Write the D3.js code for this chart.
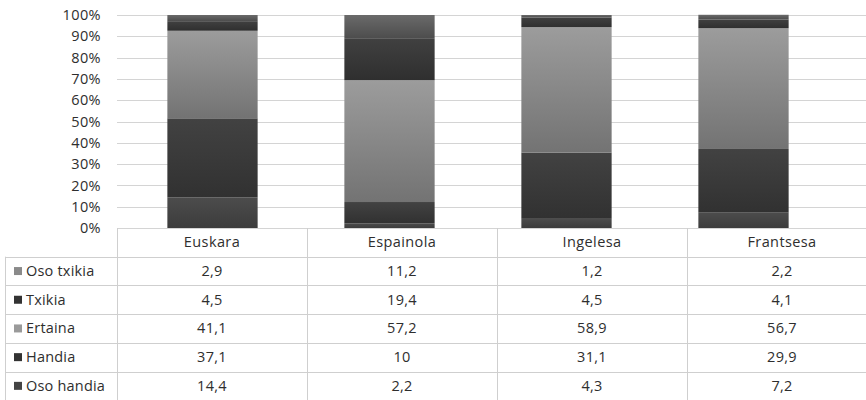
<!DOCTYPE html>
<html>
<head>
<meta charset="utf-8">
<script src="https://cdn.jsdelivr.net/npm/d3@7"></script>
<style>
  html, body { margin: 0; padding: 0; background: #fff; }
  svg { display: block; }
  text { font-family: "Open Sans", "Noto Sans", sans-serif; fill: #2e2e2e; }
</style>
</head>
<body>
<svg id="chart" width="866" height="400"></svg>
<script>
// Languages (columns) and answer levels (rows, top row = top of stack)
const languages = ["Euskara", "Espainola", "Ingelesa", "Frantsesa"];
const levels = ["Oso txikia", "Txikia", "Ertaina", "Handia", "Oso handia"];

// Percentages per level, one value per language
const osoTxikia = [2.9, 11.2, 1.2, 2.2];
const txikia    = [4.5, 19.4, 4.5, 4.1];
const ertaina   = [41.1, 57.2, 58.9, 56.7];
const handia    = [37.1, 10, 31.1, 29.9];
const osoHandia = [14.4, 2.2, 4.3, 7.2];

const yTicks = [0, 10, 20, 30, 40, 50, 60, 70, 80, 90, 100];

const seriesValues = {
  "Oso txikia": osoTxikia,
  "Txikia": txikia,
  "Ertaina": ertaina,
  "Handia": handia,
  "Oso handia": osoHandia
};

// Fill styles: [top colour, bottom colour] of each segment's gradient, plus legend key colour
const fills = {
  "Oso txikia": { top: "#6a6a6a", bottom: "#4c4c4c", key: "#8a8a8a" },
  "Txikia":     { top: "#404040", bottom: "#2f2f2f", key: "#333333" },
  "Ertaina":    { top: "#9c9c9c", bottom: "#737373", key: "#9a9a9a" },
  "Handia":     { top: "#424242", bottom: "#313131", key: "#333333" },
  "Oso handia": { top: "#4c4c4c", bottom: "#3c3c3c", key: "#444444" }
};

const svg = d3.select("#chart");
const defs = svg.append("defs");
levels.forEach((lv, i) => {
  const g = defs.append("linearGradient")
    .attr("id", "grad" + i).attr("x1", 0).attr("y1", 0).attr("x2", 0).attr("y2", 1);
  g.append("stop").attr("offset", "0%").attr("stop-color", fills[lv].top);
  g.append("stop").attr("offset", "100%").attr("stop-color", fills[lv].bottom);
});

const plotTop = 15, plotBottom = 228, plotLeft = 117, plotRight = 866;

const y = d3.scaleLinear().domain([0, 100]).range([plotBottom, plotTop]);
const xBar = d3.scaleBand().domain(languages).range([124, 832]).paddingInner(0.49).paddingOuter(0.245);
const xCol = d3.scaleBand().domain(languages).range([117, 877]);

// Gridlines
svg.append("g").selectAll("line").data(yTicks).join("line")
  .attr("x1", plotLeft).attr("x2", plotRight)
  .attr("y1", d => Math.round(y(d)) + 0.5).attr("y2", d => Math.round(y(d)) + 0.5)
  .attr("stroke", "#d4d4d4").attr("stroke-width", 1);

// Y axis labels
const yAxis = d3.axisLeft(y).tickValues(yTicks).tickFormat(d => d + "%").tickSize(0).tickPadding(0);
const yAxisG = svg.append("g").attr("transform", "translate(101,0)").call(yAxis);
yAxisG.select(".domain").remove();
yAxisG.selectAll("text").attr("font-size", 14.5).attr("letter-spacing", "0.4")
  .style("font-family", "'Open Sans', sans-serif").attr("fill", "#333");

// Stacked bars (bottom = Oso handia)
const stackOrder = levels.slice().reverse();
const rows = languages.map((lang, j) => {
  const r = { lang };
  levels.forEach(lv => r[lv] = seriesValues[lv][j]);
  return r;
});
const stacked = d3.stack().keys(stackOrder)(rows);

svg.append("g").selectAll("g").data(stacked).join("g")
  .attr("fill", d => "url(#grad" + levels.indexOf(d.key) + ")")
  .selectAll("rect").data(d => d).join("rect")
  .attr("x", d => xBar(d.data.lang))
  .attr("width", xBar.bandwidth())
  .attr("y", d => y(d[1]))
  .attr("height", d => y(d[0]) - y(d[1]));

// Data table
const rowH = 28.7;
const headerTop = plotBottom;
const tableLeft = 5;
const lineColor = "#cfcfcf";
const fs = 14.5;
const table = svg.append("g");

// Header cell texts
table.selectAll("text.hdr").data(languages).join("text").attr("class", "hdr")
  .attr("x", d => xCol(d) + xCol.bandwidth() / 2)
  .attr("y", headerTop + rowH / 2 + 5)
  .attr("text-anchor", "middle").attr("font-size", fs).attr("letter-spacing", "0.4")
  .text(d => d);

// Horizontal lines of the table
const hLines = d3.range(1, levels.length + 1).map(i => headerTop + i * rowH);
table.selectAll("line.h").data(hLines).join("line").attr("class", "h")
  .attr("x1", tableLeft).attr("x2", plotRight)
  .attr("y1", d => Math.round(d) + 0.5).attr("y2", d => Math.round(d) + 0.5)
  .attr("stroke", lineColor);

// Vertical lines
const vX = languages.map(l => xCol(l)).concat([xCol("Frantsesa") + xCol.bandwidth()]);
table.selectAll("line.v").data(vX).join("line").attr("class", "v")
  .attr("x1", d => Math.round(d) + 0.5).attr("x2", d => Math.round(d) + 0.5)
  .attr("y1", headerTop).attr("y2", 400)
  .attr("stroke", lineColor);
table.append("line")
  .attr("x1", tableLeft + 0.5).attr("x2", tableLeft + 0.5)
  .attr("y1", headerTop + rowH).attr("y2", 400).attr("stroke", lineColor);

// Row labels with legend keys, and values
levels.forEach((lv, i) => {
  const cy = headerTop + rowH * (i + 1) + rowH / 2;
  table.append("rect")
    .attr("x", 14).attr("y", cy - 4).attr("width", 8).attr("height", 8)
    .attr("fill", fills[lv].key);
  table.append("text")
    .attr("x", 26).attr("y", cy + 5)
    .attr("font-size", fs).attr("letter-spacing", "0.2")
    .text(lv);
  table.selectAll("text.v" + i).data(seriesValues[lv]).join("text").attr("class", "v" + i)
    .attr("x", (d, j) => xCol(languages[j]) + xCol.bandwidth() / 2)
    .attr("y", cy + 5)
    .attr("text-anchor", "middle").attr("font-size", fs).attr("letter-spacing", "0.3")
    .text(d => String(d).replace(".", ","));
});
</script>
</body>
</html>
